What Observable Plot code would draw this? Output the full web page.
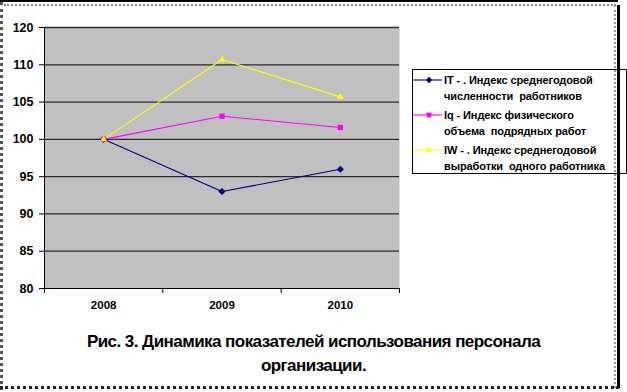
<!DOCTYPE html>
<html>
<head>
<meta charset="utf-8">
<script src="https://cdn.jsdelivr.net/npm/d3@7"></script>
<script src="https://cdn.jsdelivr.net/npm/@observablehq/plot@0.6"></script>
<style>
  html, body { margin: 0; padding: 0; background: #fff; }
  #page { position: relative; width: 627px; height: 392px; overflow: hidden; font-family: "Liberation Sans", Arial, sans-serif; }
  .b { position: absolute; }
  #legend { position: absolute; left: 412px; top: 69px; width: 215px; height: 105px; border: 1px solid #000; background: #fff; box-sizing: border-box; }
  .entry { position: relative; height: 32px; margin-top: 3px; }
  .entry:first-child { margin-top: 2px; }
  .entry svg { position: absolute; left: 0; top: 3px; }
  .entry .t { position: absolute; left: 31px; top: 0; font-size: 11px; font-weight: bold; line-height: 16px; white-space: pre; letter-spacing: -0.1px; }
  #caption { position: absolute; left: 0; top: 330px; width: 627px; text-align: center; font-size: 17px; font-weight: bold; line-height: 24px; letter-spacing: -0.55px; }
</style>
</head>
<body>
<div id="page">
  <div id="chart" style="position:absolute;left:0;top:0;"></div>
  <div id="legend"></div>
  <div id="caption">Рис. 3. Динамика показателей использования персонала<br>организации.</div>
  <div class="b" style="left:0;top:0;width:618px;height:2px;background:#000;"></div>
  <div class="b" style="left:4px;top:4px;width:612px;height:0;border-top:2px dotted #888;"></div>
  <div class="b" style="left:0;top:2px;width:0;height:388px;border-left:3px dotted #555;"></div>
  <div class="b" style="left:0;top:386px;width:619px;height:0;border-top:3px dotted #222;"></div>
  <div class="b" style="left:614px;top:5px;width:0;height:383px;border-left:2px dotted #999;"></div>
  <div class="b" style="left:617px;top:5px;width:3px;height:383px;background:#000;"></div>
</div>
<script>
const years = ["2008", "2009", "2010"];
const seriesNames = [
  "IT - . Индекс среднегодовой\nчисленности  работников",
  "Iq - Индекс физического\nобъема  подрядных работ",
  "IW - . Индекс среднегодовой\nвыработки  одного работника"
];
const valuesIT = [100, 93.0, 96.0];
const valuesIq = [100, 103.1, 101.6];
const valuesIW = [100, 110.7, 105.7];
const yTicks = [80, 85, 90, 95, 100, 105, 110, 115];
const yTickLabels = ["80", "85", "90", "95", "100", "105", "110", "120"];
const colors = ["#000080", "#ff00ff", "#ffff00"];
const symbols = ["diamond2", "square2", "triangle2"];

const allValues = [valuesIT, valuesIq, valuesIW];
const data = [];
allValues.forEach((vals, s) => vals.forEach((v, i) => data.push({series: s, xi: i, year: years[i], value: v})));

const boundaries = [-0.5, 0.5, 1.5, 2.5];
const centers = years.map((_, i) => i);

const marks = [
  Plot.frame({fill: "#c0c0c0", stroke: null}),
  Plot.ruleY(yTicks.filter(t => t > 80), {stroke: "#2a2a2a", strokeWidth: 1.3}),
  Plot.axisY({ticks: yTicks, tickFormat: (d) => yTickLabels[yTicks.indexOf(d)], tickSize: 5, tickPadding: 6, fontSize: 12.5, fontWeight: "bold", label: null, stroke: "#000"}),
  Plot.ruleX([-0.5], {stroke: "#000", strokeWidth: 1}),
  Plot.ruleY([80], {stroke: "#000", strokeWidth: 1}),
  Plot.axisX({ticks: boundaries, tickFormat: () => "", tickSize: 5, label: null, stroke: "#000"}),
  Plot.axisX({ticks: centers, tickFormat: (d) => years[d], tickSize: 0, tickPadding: 12, fontSize: 11.5, fontWeight: "bold", label: null})
];
allValues.forEach((vals, s) => {
  const d = data.filter(r => r.series === s);
  marks.push(Plot.line(d, {x: "xi", y: "value", stroke: colors[s], strokeWidth: 1.1}));
});
allValues.forEach((vals, s) => {
  const d = data.filter(r => r.series === s);
  marks.push(Plot.dot(d, {x: "xi", y: "value", fill: colors[s], stroke: null, symbol: symbols[s], r: s === 1 ? 3.4 : 3.2}));
});

const chart = Plot.plot({
  width: 627,
  height: 310,
  marginLeft: 44,
  marginRight: 228,
  marginTop: 27,
  marginBottom: 22,
  style: {background: "transparent", color: "#000", fontFamily: "'Liberation Sans', Arial, sans-serif"},
  x: {type: "linear", domain: [-0.5, 2.5], axis: null},
  y: {domain: [80, 115], axis: null},
  marks
});

// dotted background pattern for the plot area
const svg = d3.select(chart);
const defs = svg.insert("defs", ":first-child");
const pat = defs.append("pattern").attr("id", "dots").attr("width", 2).attr("height", 2).attr("patternUnits", "userSpaceOnUse");
pat.append("rect").attr("width", 2).attr("height", 2).attr("fill", "#c6c6c6");
pat.append("rect").attr("width", 1).attr("height", 1).attr("fill", "#8e8e8e");
svg.select("g[aria-label=frame] rect").attr("fill", "url(#dots)");
svg.select("g[aria-label=frame]").attr("fill", "url(#dots)");

document.getElementById("chart").appendChild(chart);

// legend
const legend = d3.select("#legend");
seriesNames.forEach((name, s) => {
  const e = legend.append("div").attr("class", "entry");
  const sv = e.append("svg").attr("width", 30).attr("height", 10);
  sv.append("line").attr("x1", 0).attr("x2", 29).attr("y1", 5).attr("y2", 5).attr("stroke", colors[s]).attr("stroke-width", 1.1);
  const sym = d3.symbol(s === 0 ? d3.symbolDiamond2 : s === 1 ? d3.symbolSquare2 : d3.symbolTriangle2, s === 1 ? 30 : 26);
  sv.append("path").attr("d", sym()).attr("transform", "translate(16,5)").attr("fill", colors[s]);
  e.append("div").attr("class", "t").text(name);
});
</script>
</body>
</html>
